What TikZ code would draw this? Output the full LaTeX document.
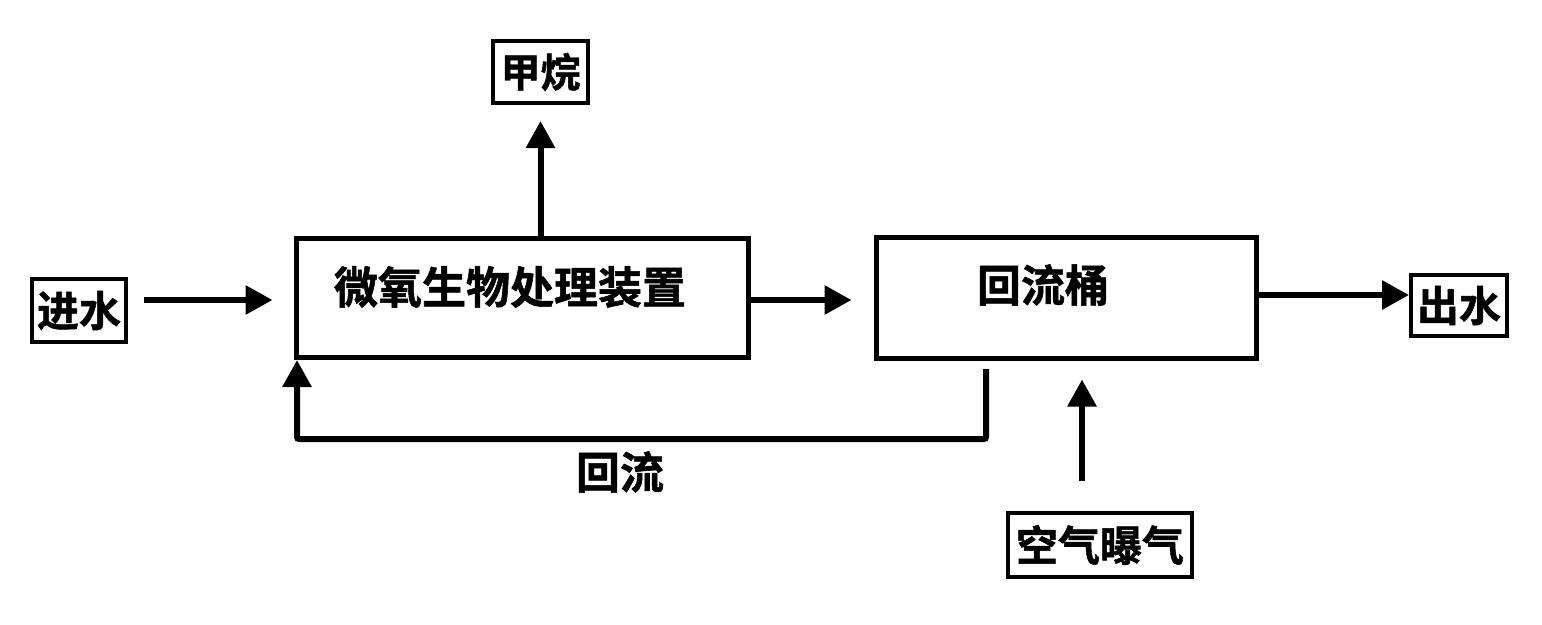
\documentclass[tikz,border=0pt]{standalone}
\usepackage{fontspec}
\newfontfamily\cjk{Noto Sans CJK SC}[BoldFont={Noto Sans CJK SC Bold},BoldFeatures={FakeBold=1.2}]
\usetikzlibrary{arrows.meta,calc}
\tikzset{
  box/.style={draw, line width=5pt, rectangle, inner sep=0pt, fill=none},
  smallbox/.style={draw, line width=4pt, rectangle, inner sep=0pt, font=\cjk\bfseries\fontsize{42}{42}\selectfont},
  lbl/.style={inner sep=0pt, font=\cjk\bfseries\fontsize{44}{44}\selectfont},
  arr/.style={line width=6pt, -{Triangle[length=27pt,width=28pt]}},
}
\begin{document}
\begin{tikzpicture}[x=1pt,y=-1pt]
\useasboundingbox (0,0) rectangle (1542,624);
% boxes
\node[smallbox, minimum width=95pt, minimum height=62pt, font=\cjk\bfseries\fontsize{40}{40}\selectfont] (jiawan) at (540.5,72) {甲烷};
\node[smallbox, minimum width=94pt, minimum height=63pt] (jinshui) at (79,310.5) {进水};
\node[box, minimum width=452pt, minimum height=119pt] (main) at (522,298) {};
\node[lbl] (maintxt) at (510,287) {微氧生物处理装置};
\node[box, minimum width=380pt, minimum height=121pt] (hlt) at (1066,297.5) {};
\node[lbl] (hlttxt) at (1043,285) {回流桶};
\node[smallbox, minimum width=96pt, minimum height=61pt] (chushui) at (1459,305.5) {出水};
\node[smallbox, minimum width=184pt, minimum height=64pt] (kongqi) at (1100,545) {空气曝气};
\node[lbl] (huiliu) at (620,472) {回流};
% helper coordinates
\coordinate (rowA) at (0,300);
\coordinate (rowB) at (0,295);
\coordinate (retA) at (986,369);
\coordinate (retB) at (297,439);
\coordinate (airx) at (1082,0);
% connectors
\draw[arr, shorten <=16pt, shorten >=21pt] (jinshui.east |- rowA) -- (main.west |- rowA);
\draw[arr, shorten >=16pt] (jiawan.south |- main.north) -- (jiawan.south);
\draw[arr, shorten >=22pt] (main.east |- rowA) -- (hlt.west |- rowA);
\draw[arr] (hlt.east |- rowB) -- (chushui.west |- rowB);
\draw[arr, rounded corners=2pt] (retA) |- (retB) -- (retB |- main.south);
\draw[arr, shorten <=30pt, shorten >=19pt] (airx |- kongqi.north) -- (airx |- hlt.south);
\end{tikzpicture}
\end{document}
